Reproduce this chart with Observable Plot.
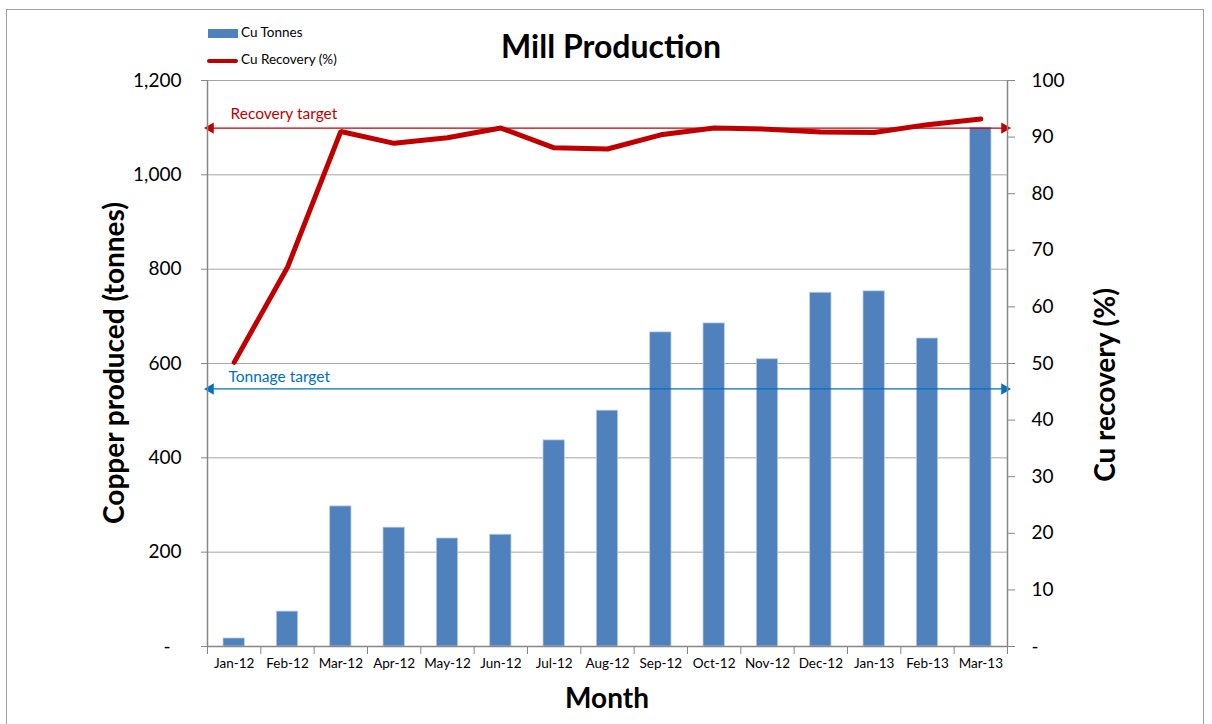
<!DOCTYPE html>
<html>
<head>
<meta charset="utf-8">
<script src="https://cdn.jsdelivr.net/npm/d3@7"></script>
<script src="https://cdn.jsdelivr.net/npm/@observablehq/plot@0.6"></script>
<style>
  body { margin: 0; background: #fff; font-family: Lato, "Open Sans", sans-serif; }
  #wrap { position: relative; width: 1212px; height: 724px; overflow: hidden; }
  .abs { position: absolute; white-space: nowrap; }
  .rot { transform: translate(-50%, -50%) rotate(-90deg); }
  .ctr { transform: translate(-50%, -50%); }
</style>
</head>
<body>
<div id="wrap"></div>
<script>
// ---- data ----
const months = ["Jan-12","Feb-12","Mar-12","Apr-12","May-12","Jun-12","Jul-12","Aug-12","Sep-12","Oct-12","Nov-12","Dec-12","Jan-13","Feb-13","Mar-13"];
const cuTonnes = [17, 74, 297, 252, 229, 237, 437, 500, 666, 685, 609, 750, 753, 653, 1100];
const cuRecovery = [50.2, 67.0, 91.0, 88.9, 89.9, 91.6, 88.1, 87.9, 90.4, 91.6, 91.4, 90.9, 90.8, 92.2, 93.2];
const leftTicks = [0, 200, 400, 600, 800, 1000, 1200];
const rightTicks = [0, 10, 20, 30, 40, 50, 60, 70, 80, 90, 100];
const tonnageTarget = 546;
const recoveryTarget = 91.6;

const scaleFactor = 12; // 100 % <-> 1200 t
const data = months.map((m, i) => ({month: m, i, tonnes: cuTonnes[i], rec: cuRecovery[i]}));
const fmt = d3.format(",");
const axisGray = "#868686";

const tonnage = [{name: "Tonnage target", y: tonnageTarget, color: "#0070c0"}];
const recovery = [{name: "Recovery target", y: recoveryTarget * scaleFactor, color: "#c00000"}];
const targets = tonnage.concat(recovery);

const chart = Plot.plot({
  width: 1212,
  height: 724,
  marginLeft: 207,
  marginRight: 205,
  marginTop: 80,
  marginBottom: 78,
  style: {fontFamily: "Lato, 'Open Sans', sans-serif", background: "white", color: "black"},
  x: {domain: [0, months.length], axis: null},
  y: {domain: [0, 1200], axis: null},
  marks: [
    Plot.ruleY(leftTicks.filter(t => t > 0), {stroke: "#a6a6a6", strokeWidth: 1}),
    Plot.rectY(data, {x1: d => d.i + 0.3, x2: d => d.i + 0.7, y1: 0, y2: "tonnes", fill: "#4f81bd", stroke: "#b9cde5", strokeWidth: 0.8}),
    // target arrows
    Plot.ruleY(targets, {y: "y", x1: 0, x2: months.length, stroke: "color", strokeWidth: 1.3}),
    Plot.dot(targets, {x: 0, y: "y", symbol: "triangle", rotate: -90, r: 4.2, fill: "color", dx: 3}),
    Plot.dot(targets, {x: months.length, y: "y", symbol: "triangle", rotate: 90, r: 4.2, fill: "color", dx: -3}),
    Plot.text(tonnage, {x: 0, y: "y", text: "name", fill: "color", textAnchor: "start", dx: 21, dy: -12, fontSize: 15.5}),
    Plot.text(recovery, {x: 0, y: "y", text: "name", fill: "color", textAnchor: "start", dx: 23, dy: -14, fontSize: 15.5}),
    // recovery line
    Plot.line(data, {x: d => d.i + 0.5, y: d => d.rec * scaleFactor, stroke: "#c00000", strokeWidth: 5, strokeLinecap: "round", strokeLinejoin: "miter"}),
    // axes lines
    Plot.ruleX([0, months.length], {stroke: axisGray, strokeWidth: 1.5}),
    Plot.ruleY([0], {stroke: axisGray, strokeWidth: 1.5}),
    // x axis
    Plot.axisX({ticks: d3.range(months.length + 1), tickSize: 8, tickFormat: () => "", stroke: axisGray}),
    Plot.axisX({ticks: data.map(d => d.i + 0.5), tickSize: 0, tickPadding: 12, tickFormat: d => months[Math.floor(d)], fontSize: 13.5, fill: "black"}),
    // left y axis
    Plot.axisY({anchor: "left", ticks: leftTicks, tickSize: 6, tickPadding: 20, tickFormat: d => d === 0 ? "-\u2007" : fmt(d), fontSize: 19, stroke: axisGray, fill: "black"}),
    // right y axis
    Plot.axisY({anchor: "right", ticks: rightTicks.map(t => t * scaleFactor), tickSize: 7, tickPadding: 17, tickFormat: d => d === 0 ? "-" : String(Math.round(d / scaleFactor)), fontSize: 19, stroke: axisGray, fill: "black"})
  ]
});

const wrap = document.getElementById("wrap");
wrap.appendChild(chart);

function addDiv(html, style, cls) {
  const el = document.createElement("div");
  el.className = "abs " + (cls || "");
  el.innerHTML = html;
  Object.assign(el.style, style);
  wrap.appendChild(el);
  return el;
}
// border
addDiv("", {left: "6px", top: "9px", width: "1198px", height: "740px", border: "1px solid #a0a0a0", boxSizing: "border-box"});
// title
addDiv("Mill Production", {left: "611px", top: "45px", fontSize: "32px", fontWeight: "bold"}, "ctr");
// axis titles
addDiv("Copper produced (tonnes)", {left: "113px", top: "363px", fontSize: "28px", fontWeight: "bold"}, "rot");
addDiv("Cu recovery (%)", {left: "1104px", top: "385px", fontSize: "28px", fontWeight: "bold"}, "rot");
addDiv("Month", {left: "607px", top: "697px", fontSize: "28px", fontWeight: "bold"}, "ctr");
// legend
addDiv("", {left: "208px", top: "29px", width: "30px", height: "9px", background: "#4f81bd"});
addDiv("Cu Tonnes", {left: "241px", top: "24px", fontSize: "13.5px"});
addDiv("", {left: "207px", top: "59px", width: "31px", height: "4px", background: "#c00000", borderRadius: "2px"});
addDiv("Cu Recovery (%)", {left: "241px", top: "51px", fontSize: "13.5px"});
</script>
</body>
</html>
